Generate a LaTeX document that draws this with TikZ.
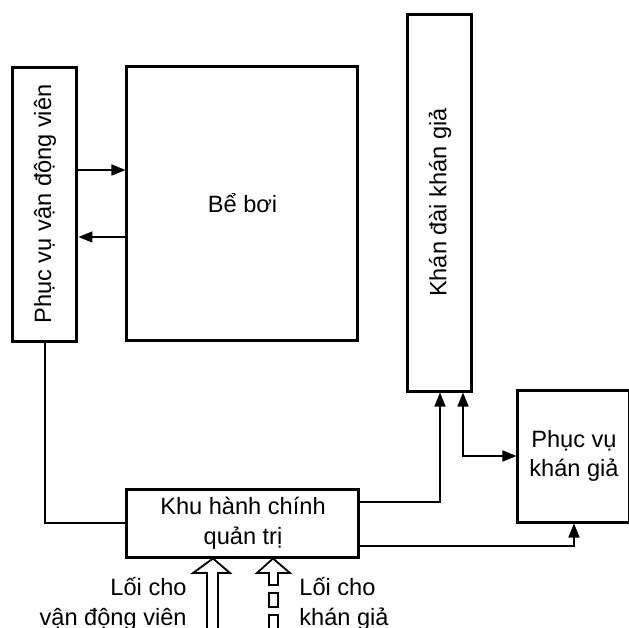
\documentclass[tikz,border=0pt]{standalone}
\usepackage{fontspec}
\setmainfont{Liberation Sans}
\usetikzlibrary{arrows.meta}
\tikzset{
  room/.style={draw, line width=1.5pt, inner sep=2pt},
  link/.style={line width=0.8pt},
  gate/.style={line width=0.9pt, line join=miter},
}
\begin{document}
\begin{tikzpicture}[x=0.5pt,y=-0.5pt,>={Triangle[length=7pt,width=5.5pt]},
    font=\fontsize{11.8}{14.8}\selectfont]
        \useasboundingbox (0,0) rectangle (629,628);
        % rooms
        \node[room, minimum width=32pt, minimum height=137pt] (vdv) at (45,204) {};
        \node[rotate=90] (vdvtext) at (vdv) {Phục vụ vận động viên};
        \node[room, minimum width=115.5pt, minimum height=137pt] (pool) at (242.5,203) {Bể bơi};
        \node[room, minimum width=32pt, minimum height=188.5pt] (kd) at (440,202.5) {};
        \node[rotate=90] (kdtext) at (kd) {Khán đài khán giả};
        \node[room, minimum width=56pt, minimum height=66pt, align=center] (pvkg) at (574,456)
            {Phục vụ\\khán giả};
        \node[room, minimum width=116pt, minimum height=34pt, align=center] (khu) at (243,523)
            {Khu hành chính\\quản trị};
        % links
        \draw[link,->] (vdv.east |- 0,170) -- (pool.west |- 0,170);
        \draw[link,<-] (vdv.east |- 0,237) -- (pool.west |- 0,237);
        \draw[link] (vdv.south) |- (khu.west);
        \draw[link,->] (khu.east |- 0,502) -| (kd.south);
        \draw[link,<->] (kd.south -| 463,0) |- (pvkg.west);
        \draw[link,->] (khu.east |- 0,546) -| (pvkg.south);
        % entrances
        \draw[gate] (207,632) -- (207,573) -- (193,573) -- (khu.south -| 213,0)
            -- (230,573) -- (218,573) -- (218,632);
        \draw[gate] (269,585) -- (269,573) -- (257,573) -- (khu.south -| 273,0)
            -- (290,573) -- (278,573) -- (278,585) -- cycle;
        \draw[gate] (269,593) rectangle (278,607);
        \draw[gate] (269,615) rectangle (278,640);
        \node[anchor=east, align=right, inner sep=0pt] (vdvgate) at (187,604)
            {Lối cho\\vận động viên};
        \node[anchor=west, align=left, inner sep=0pt] (kggate) at (299,604)
            {Lối cho\\khán giả};
    \end{tikzpicture}
\end{document}
